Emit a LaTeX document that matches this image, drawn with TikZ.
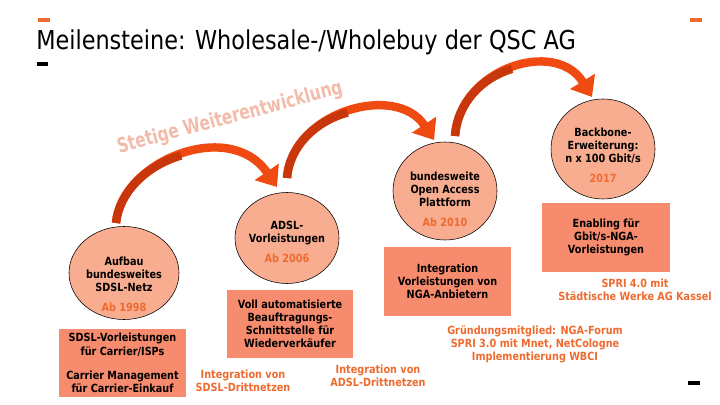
\documentclass[tikz,border=0pt]{standalone}
\usepackage{fontspec}
\setmainfont{DejaVu Sans}[FakeStretch=0.86]
\usetikzlibrary{arrows.meta,shapes.geometric}

\definecolor{qscOrange}{HTML}{EE6A2E}
\definecolor{bubbleFill}{HTML}{F9AD90}
\definecolor{boxFill}{HTML}{F78B6D}
\definecolor{arrowRed}{HTML}{EE4A12}
\definecolor{arrowDark}{HTML}{C8360C}
\definecolor{wordArt}{HTML}{F2BBAA}

\begin{document}
\begin{tikzpicture}
[x=0.025cm,y=-0.025cm,
  bubble/.style={shape=ellipse,draw,thin,fill=bubbleFill,inner sep=0pt},%
  milestoneBox/.style={fill=boxFill,inner sep=0pt,align=center,font=\fontsize{8pt}{9.3pt}\selectfont\bfseries},%
  boxText/.style={align=center,font=\fontsize{8pt}{9.3pt}\selectfont\bfseries},%
  noteText/.style={boxText,text=qscOrange},%
  bigArrow/.style={-{Triangle[width=20pt,length=13pt]},line width=6pt,color=arrowRed},%
  arrowTail/.style={line width=6pt,color=arrowDark},%
  barLine/.style={line width=2.2pt}]
\useasboundingbox (0,0) rectangle (720,405);
%% title and corner marks
\node[anchor=base west,inner sep=0pt,font=\fontsize{18.5pt}{21pt}\selectfont] (title) at (36,50)
  {Meilensteine: Wholesale-/Wholebuy der QSC AG};
\foreach \xa/\ya/\xb/\col in {38/20/50/qscOrange, 690/20/702/qscOrange, 37/64/48/black, 688/383/700/black}
{
  \draw[barLine,\col] (\xa,\ya) -- (\xb,\ya);
}
\node[rotate=15,xscale=0.88,text=wordArt,font=\fontsize{14.5pt}{16pt}\selectfont\bfseries] (trend) at (230,118)
  {Stetige Weiterentwicklung};
%% milestone bubbles
\foreach \nodename/\x/\y/\w/\h in {c1/124/273/110/93, c2/287/238/104/91, c3/445/191/104/98, c4/603/149/104/100}
{
  \node (\nodename) at (\x,\y) [bubble,minimum width=\w*0.025cm,minimum height=\h*0.025cm] {};
}
\node[boxText] (t1) at (124,284) {Aufbau\\bundesweites\\SDSL-Netz\\[5pt]\textcolor{qscOrange}{Ab 1998}};
\node[boxText] (t2) at (287,241.5) {ADSL-\\Vorleistungen\\[5pt]\textcolor{qscOrange}{Ab 2006}};
\node[boxText] (t3) at (445,199.5) {bundesweite\\Open Access\\Plattform\\[5pt]\textcolor{qscOrange}{Ab 2010}};
\node[boxText] (t4) at (603,155) {Backbone-\\Erweiterung:\\n x 100 Gbit/s\\[5pt]\textcolor{qscOrange}{2017}};
%% boxes
\node (b1) at (122.5,363) [milestoneBox,minimum width=127*0.025cm,minimum height=68*0.025cm]
  {SDSL-Vorleistungen\\für Carrier/ISPs\\[8pt]Carrier Management\\für Carrier-Einkauf};
\node (b2) at (290,324) [milestoneBox,minimum width=126*0.025cm,minimum height=68*0.025cm]
  {Voll automatisierte\\Beauftragungs-\\Schnittstelle für\\Wiederverkäufer};
\node (b3) at (447.5,281.5) [milestoneBox,minimum width=127*0.025cm,minimum height=69*0.025cm]
  {Integration\\Vorleistungen von\\NGA-Anbietern};
\node (b4) at (606,237.5) [milestoneBox,minimum width=128*0.025cm,minimum height=69*0.025cm]
  {Enabling für\\Gbit/s-NGA-\\Vorleistungen};
%% orange notes
\node[noteText] (n1) at (243,381) {Integration von\\SDSL-Drittnetzen};
\node[noteText] (n2) at (378,375.5) {Integration von\\ADSL-Drittnetzen};
\node[noteText] (n3) at (535,344) {Gründungsmitglied: NGA-Forum\\SPRI 3.0 mit Mnet, NetCologne\\Implementierung WBCI};
\node[noteText] (n4) at (635,289.5) {SPRI 4.0 mit\\Städtische Werke AG Kassel};
%% curved arrows, dark tail half drawn over the bright arrow
\coordinate (tail1) at (116,223);
\coordinate (mid1) at (181.1,155.5);
\coordinate (tip1) at (277,187);
\coordinate (tail2) at (287,178);
\coordinate (mid2) at (347.6,112.5);
\coordinate (tip2) at (434,140);
\coordinate (tail3) at (455,136);
\coordinate (mid3) at (511.9,68.9);
\coordinate (tip3) at (592,97);
\draw[bigArrow] (tail1) .. controls (122,160) and (230,118) .. (tip1);
\draw[bigArrow] (tail2) .. controls (292,112) and (396,82) .. (tip2);
\draw[bigArrow] (tail3) .. controls (460,68) and (556,38) .. (tip3);
\draw[arrowTail] (tail1) .. controls (119,191.5) and (147.5,165.25) .. (mid1);
\draw[arrowTail] (tail2) .. controls (289.5,145) and (316.75,121) .. (mid2);
\draw[arrowTail] (tail3) .. controls (457.5,102) and (482.75,77.5) .. (mid3);
\end{tikzpicture}
\end{document}
